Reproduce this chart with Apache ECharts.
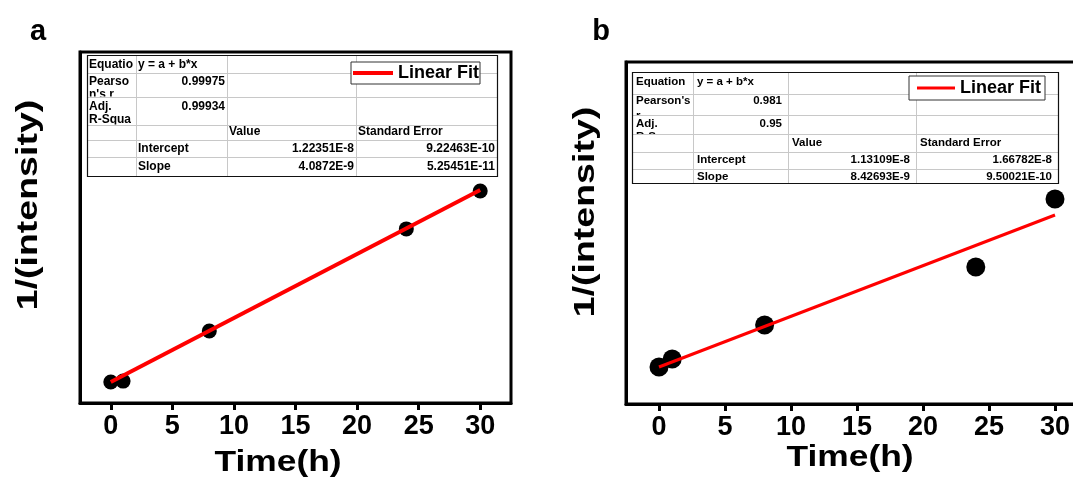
<!DOCTYPE html>
<html>
<head>
<meta charset="utf-8">
<script src="https://cdn.jsdelivr.net/npm/echarts@6/dist/echarts.min.js"></script>
<style>html,body{margin:0;padding:0;background:#fff;}#c{width:1073px;height:481px;}</style>
</head>
<body>
<div id="c"></div>
<script>
// ---- data ----
const timeA = [0, 1, 8, 24, 30];
const invIntensityA = [1.22e-8, 1.28e-8, 4.48e-8, 1.10e-7, 1.342e-7];
const fitTimeA = [0, 30];
const fitValueA = [1.22351e-8, 1.34855e-7];

const timeB = [0, 1, 8, 24, 30];
const invIntensityB = [1.13e-8, 2.46e-8, 8.12e-8, 1.776e-7, 2.907e-7];
const fitTimeB = [0, 30];
const fitValueB = [1.13109e-8, 2.64119e-7];

const timeTicks = [0, 5, 10, 15, 20, 25, 30];
const panelLabels = ['a', 'b'];
const xTitle = 'Time(h)';
const yTitle = '1/(intensity)';
const fitName = 'Linear Fit';

const tableACells = [
  ['Equatio', 'y = a + b*x', '', ''],
  ['Pearso\nn\'s r', '0.99975', '', ''],
  ['Adj.\nR-Squa', '0.99934', '', ''],
  ['', '', 'Value', 'Standard Error'],
  ['', 'Intercept', '1.22351E-8', '9.22463E-10'],
  ['', 'Slope', '4.0872E-9', '5.25451E-11']
];
const tableBCells = [
  ['Equation', 'y = a + b*x', '', ''],
  ['Pearson\'s\nr', '0.981', '', ''],
  ['Adj.\nR-Square', '0.95', '', ''],
  ['', '', 'Value', 'Standard Error'],
  ['', 'Intercept', '1.13109E-8', '1.66782E-8'],
  ['', 'Slope', '8.42693E-9', '9.50021E-10']
];

// ---- styling / layout ----
const FONT = '"Liberation Sans", Arial, sans-serif';
const cellAlign = [
  ['l','l','l','l'],
  ['l','r','l','l'],
  ['l','r','l','l'],
  ['l','l','l','l'],
  ['l','l','r','r'],
  ['l','l','r','r']
];
const layoutA = {
  colX: [87, 136, 227, 356, 497],
  rowY: [55, 73, 96.5, 124.5, 140, 157, 176],
  off: [9.5, 8.7, 10.2, 7.5, 9, 9.7],
  gap: [0, 13, 13, 0, 0, 0], padL: 2, padR: 2, fontSize: 12
};
const layoutB = {
  colX: [632, 693, 788, 916, 1058],
  rowY: [72, 94, 115, 134, 152, 169, 183],
  off: [10, 7, 9.3, 9.3, 8, 7.7],
  gap: [0, 15, 13, 0, 0, 0], padL: 4, padR: 6, fontSize: 11.5
};

function pairs(xs, ys) { return xs.map((x, i) => [x, ys[i]]); }

function buildTable(cells, L) {
  const els = [];
  const x0 = L.colX[0], x1 = L.colX[L.colX.length - 1];
  for (let r = 0; r < cells.length; r++) {
    const top = L.rowY[r], bot = L.rowY[r + 1];
    els.push({ type: 'rect', z: 10 + 2 * r, silent: true,
      shape: { x: x0, y: top, width: x1 - x0, height: bot - top },
      style: { fill: '#fff' } });
    for (let c = 0; c < 4; c++) {
      const t = cells[r][c];
      if (!t) continue;
      const lines = t.split('\n');
      lines.forEach((ln, k) => {
        const al = cellAlign[r][c];
        els.push({ type: 'text', z: 11 + 2 * r, silent: true,
          x: al === 'r' ? L.colX[c + 1] - L.padR : L.colX[c] + L.padL,
          y: top + L.off[r] + k * L.gap[r],
          style: { text: ln, fill: '#000', fontSize: L.fontSize, fontWeight: 'bold',
            fontFamily: FONT, align: al === 'r' ? 'right' : 'left', verticalAlign: 'middle' } });
      });
    }
  }
  for (let r = 1; r < L.rowY.length - 1; r++) {
    const y = Math.round(L.rowY[r]) + 0.5;
    els.push({ type: 'line', z: 30, silent: true, shape: { x1: x0, y1: y, x2: x1, y2: y },
      style: { stroke: '#c8c8c8', lineWidth: 1 } });
  }
  for (let c = 1; c < L.colX.length - 1; c++) {
    const x = Math.round(L.colX[c]) + 0.5;
    els.push({ type: 'line', z: 30, silent: true,
      shape: { x1: x, y1: L.rowY[0], x2: x, y2: L.rowY[L.rowY.length - 1] },
      style: { stroke: '#c8c8c8', lineWidth: 1 } });
  }
  els.push({ type: 'rect', z: 31, silent: true,
    shape: { x: x0 + 0.5, y: L.rowY[0] + 0.5, width: x1 - x0, height: L.rowY[L.rowY.length - 1] - L.rowY[0] },
    style: { fill: 'none', stroke: '#111', lineWidth: 1.2 } });
  return els;
}

function xAxisDef(gi) {
  return {
    type: 'value', gridIndex: gi, min: -2.5, max: 32.5,
    axisLine: { show: true, onZero: false, lineStyle: { color: '#000', width: 3 } },
    axisTick: { show: true, customValues: timeTicks, length: 7, inside: false, lineStyle: { color: '#000', width: 3 } },
    axisLabel: { show: true, customValues: timeTicks, fontSize: 27, fontWeight: 'bold', color: '#000', fontFamily: FONT, margin: 10 },
    splitLine: { show: false }
  };
}
function yAxisDef(gi, mn, mx) {
  return {
    type: 'value', gridIndex: gi, min: mn, max: mx,
    axisLine: { show: true, onZero: false, lineStyle: { color: '#000', width: 3 } },
    axisTick: { show: false }, axisLabel: { show: false }, splitLine: { show: false }
  };
}

const titleText = (txt, x, y, size, rot, sx) => ({
  type: 'text', x: x, y: y, rotation: rot || 0, scaleX: sx || 1, z: 5, silent: true,
  style: { text: txt, fill: '#000', fontSize: size, fontWeight: 'bold', fontFamily: FONT,
    align: 'center', verticalAlign: 'middle' }
});

const legendDef = (left, top, iw, ih, pad) => ({
  data: [fitName], left: left, top: top, orient: 'horizontal', icon: 'rect',
  itemWidth: iw, itemHeight: ih, padding: pad, selectedMode: false,
  backgroundColor: '#fff', borderColor: '#333', borderWidth: 1, z: 50,
  textStyle: { fontSize: 18, fontWeight: 'bold', color: '#000', fontFamily: FONT }
});

const option = {
  animation: false,
  backgroundColor: '#fff',
  grid: [
    { left: 80, top: 52, width: 431, height: 351, show: true, borderColor: '#000', borderWidth: 3,
      backgroundColor: '#fff', containLabel: false, outerBoundsMode: 'none' },
    { left: 626, top: 62, width: 462, height: 342, show: true, borderColor: '#000', borderWidth: 3,
      backgroundColor: '#fff', containLabel: false, outerBoundsMode: 'none' }
  ],
  xAxis: [xAxisDef(0), xAxisDef(1)],
  yAxis: [yAxisDef(0, -1.2e-9, 2.23e-7), yAxisDef(1, -5.02e-8, 5.186e-7)],
  legend: [legendDef(351, 62, 40, 4, [2, 1, 2, 2]), legendDef(909, 76, 38, 3, [3, 4, 3, 8])],
  series: [
    { type: 'scatter', xAxisIndex: 0, yAxisIndex: 0, data: pairs(timeA, invIntensityA),
      symbol: 'circle', symbolSize: 15, itemStyle: { color: '#000', opacity: 1 }, z: 2 },
    { type: 'line', name: fitName, xAxisIndex: 0, yAxisIndex: 0, data: pairs(fitTimeA, fitValueA),
      symbol: 'none', lineStyle: { color: '#ff0000', width: 4 }, itemStyle: { color: '#ff0000' }, z: 3 },
    { type: 'scatter', xAxisIndex: 1, yAxisIndex: 1, data: pairs(timeB, invIntensityB),
      symbol: 'circle', symbolSize: 19, itemStyle: { color: '#000', opacity: 1 }, z: 2 },
    { type: 'line', name: fitName, xAxisIndex: 1, yAxisIndex: 1, data: pairs(fitTimeB, fitValueB),
      symbol: 'none', lineStyle: { color: '#ff0000', width: 3 }, itemStyle: { color: '#ff0000' }, z: 3 }
  ],
  graphic: [].concat(
    buildTable(tableACells, layoutA),
    buildTable(tableBCells, layoutB),
    [
      titleText(panelLabels[0], 38, 32, 29),
      titleText(panelLabels[1], 601, 32, 29),
      titleText(xTitle, 278, 463, 30, 0, 1.18),
      titleText(xTitle, 850, 458, 30, 0, 1.18),
      titleText(yTitle, 29, 205, 30, Math.PI / 2, 1.25),
      titleText(yTitle, 586, 212, 30, Math.PI / 2, 1.25)
    ]
  )
};

const chart = echarts.init(document.getElementById('c'), null, { renderer: 'canvas' });
chart.setOption(option);
</script>
</body>
</html>
